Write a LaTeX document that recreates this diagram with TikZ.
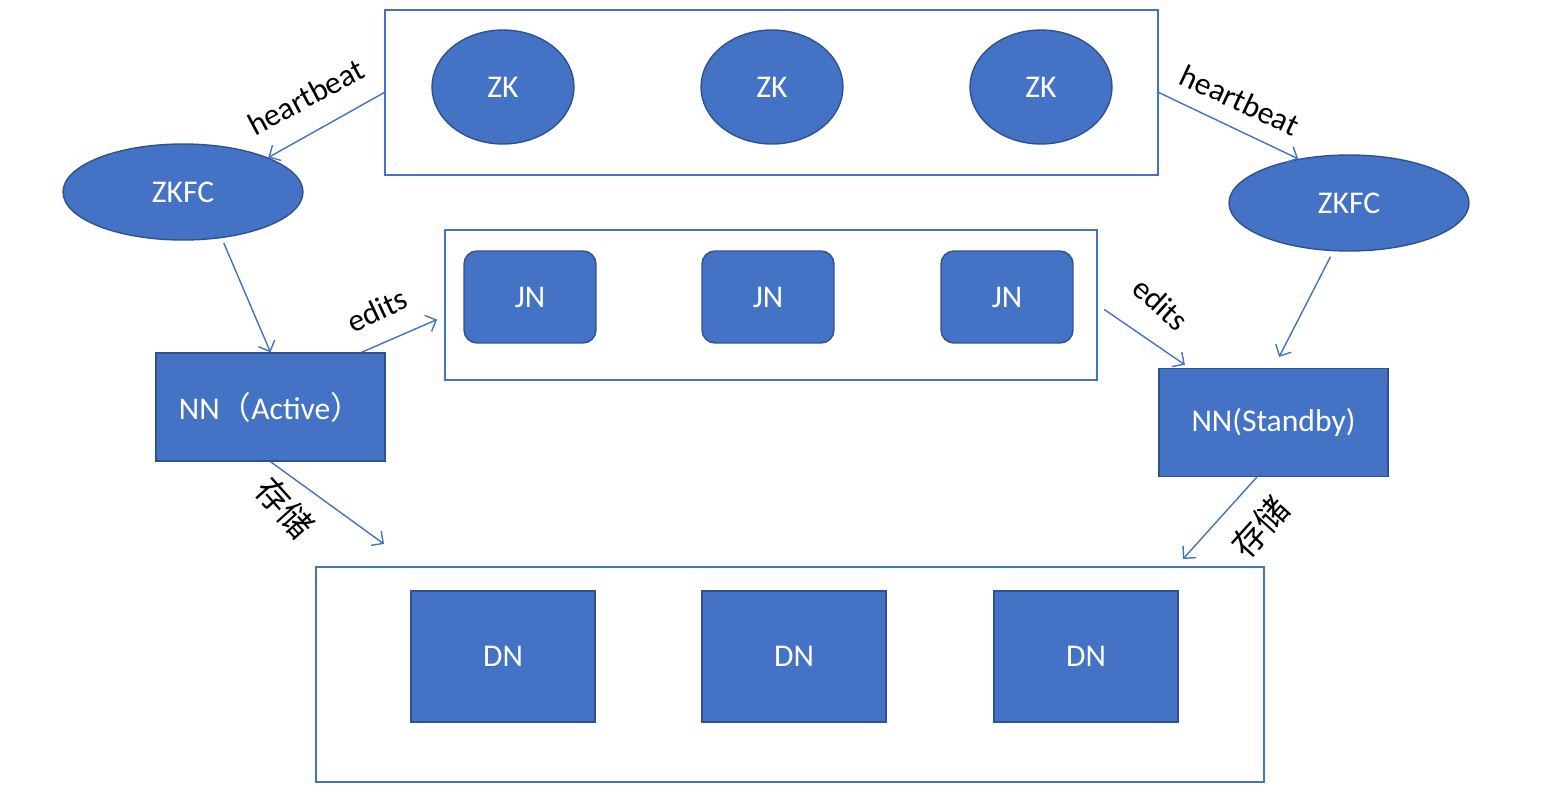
\documentclass[tikz,border=0pt]{standalone}
\usepackage{fontspec}
\setmainfont{Carlito}
\newfontfamily\cjk{Noto Sans CJK SC}
\usetikzlibrary{shapes.geometric}
\usetikzlibrary{arrows.meta}

\definecolor{hafill}{HTML}{4472C4}
\definecolor{haedge}{HTML}{2F528F}

\tikzset{
  zknode/.style={ellipse, fill=hafill, draw=haedge, line width=0.8pt, text=white, minimum width=2.84cm, minimum height=2.28cm, inner sep=0pt},
  zkfcnode/.style={ellipse, fill=hafill, draw=haedge, line width=0.8pt, text=white, minimum width=4.8cm, minimum height=1.92cm, inner sep=0pt},
  jnnode/.style={rectangle, rounded corners=0.26cm, fill=hafill, draw=haedge, line width=0.8pt, text=white, minimum width=2.64cm, minimum height=1.84cm},
  nnnode/.style={rectangle, fill=hafill, draw=haedge, line width=0.8pt, text=white, minimum width=4.58cm, minimum height=2.16cm},
  dnnode/.style={rectangle, fill=hafill, draw=haedge, line width=0.8pt, text=white, minimum width=3.68cm, minimum height=2.62cm},
  groupbox/.style={rectangle, draw=hafill, line width=0.9pt, inner sep=0pt},
  arr/.style={draw=hafill, line width=0.8pt, -{Straight Barb[length=5pt,width=10pt]}},
  lbl/.style={inner sep=0pt, text=black},
  cjklbl/.style={lbl, font=\cjk\fontsize{19}{21}\selectfont}
}

\begin{document}
\begin{tikzpicture}[x=0.02cm, y=-0.02cm, font=\fontsize{18}{20}\selectfont]
\useasboundingbox (0,0) rectangle (1543,802);

% group frames
\node[groupbox, minimum width=15.46cm, minimum height=3.3cm] (zkbox) at (771.5,92.5) {};
\node[groupbox, minimum width=13.04cm, minimum height=3.0cm] (jnbox) at (771,305) {};
\node[groupbox, minimum width=18.96cm, minimum height=4.3cm] (dnbox) at (790,674.5) {};

% zookeeper
\node[zknode] (zk1) at (503,87) {ZK};
\node[zknode] (zk2) at (772,87) {ZK};
\node[zknode] (zk3) at (1041,87) {ZK};

% failover controllers
\node[zkfcnode] (zkfcL) at (183,192) {ZKFC};
\node[zkfcnode] (zkfcR) at (1349,203) {ZKFC};

% journal nodes
\node[jnnode] (jn1) at (530,297) {JN};
\node[jnnode] (jn2) at (768,297) {JN};
\node[jnnode] (jn3) at (1007,297) {JN};

% namenodes
\node[nnnode] (nnA) at (270.5,407) {NN{\cjk （}Active{\cjk ）}};
\node[nnnode] (nnS) at (1273.5,422.5) {NN(Standby)};

% datanodes
\node[dnnode] (dn1) at (503,656.5) {DN};
\node[dnnode] (dn2) at (794,656.5) {DN};
\node[dnnode] (dn3) at (1086,656.5) {DN};

% free arrow ends
\coordinate (stL) at (384,544);
\coordinate (stR) at (1183,559);

% connectors
\draw[arr] (zkbox.west) -- (zkfcL.22);
\draw[arr] (zkbox.east) -- (zkfcR.139);
\draw[arr, shorten <=3pt] (zkfcL.-50) -- (nnA.north);
\draw[arr, shorten <=3.5pt, shorten >=7pt] (zkfcR.-108) -- (nnS.north);
\draw[arr, shorten >=4.5pt] (nnA.31) -- (jnbox.182);
\draw[arr, shorten <=4.5pt, shorten >=3pt] (jnbox.east) -- (nnS.147);
\draw[arr] (nnA.south) -- (stL);
\draw[arr] (nnS.-107) -- (stR);

% labels
\node[lbl, rotate=28] (hbL) at (306,97) {heartbeat};
\node[lbl, rotate=-25] (hbR) at (1240,100) {heartbeat};
\node[lbl, rotate=25] (edL) at (377,310) {edits};
\node[lbl, rotate=-42] (edR) at (1161,304) {edits};
\node[cjklbl, rotate=-48] (stLl) at (285,508) {存储};
\node[cjklbl, rotate=48] (stRl) at (1260,527) {存储};
\end{tikzpicture}
\end{document}
